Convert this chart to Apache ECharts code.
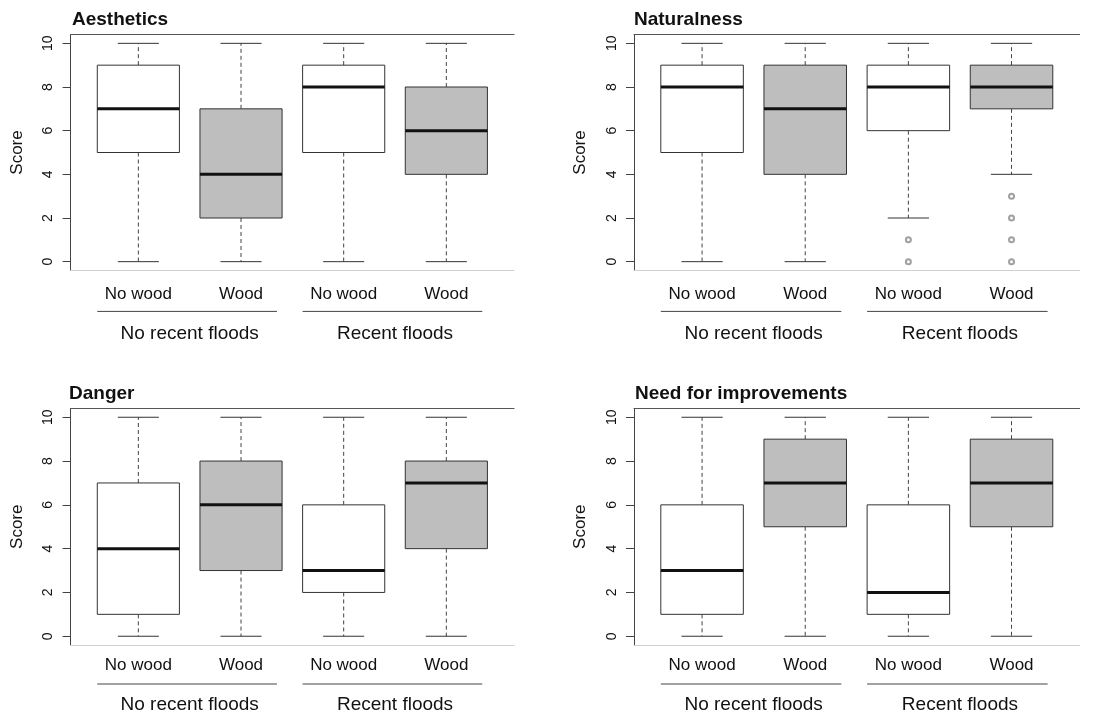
<!DOCTYPE html>
<html>
<head>
<meta charset="utf-8">
<script src="https://cdn.jsdelivr.net/npm/echarts@6/dist/echarts.min.js"></script>
<style>
html,body{margin:0;padding:0;background:#fff;}
#chart{width:1104px;height:714px;}
</style>
</head>
<body>
<div id="chart"></div>
<script>
// ---- data ----
const categories = ['No wood', 'Wood', 'No wood', 'Wood'];
const groups = ['No recent floods', 'Recent floods'];
const panelTitles = ['Aesthetics', 'Naturalness', 'Danger', 'Need for improvements'];
const woodFlags = [false, true, false, true];
const yTicks = [0, 2, 4, 6, 8, 10];
// [min, Q1, median, Q3, max] per category
const aestheticsStats = [[0, 5, 7, 9, 10], [0, 2, 4, 7, 10], [0, 5, 8, 9, 10], [0, 4, 6, 8, 10]];
const naturalnessStats = [[0, 5, 8, 9, 10], [0, 4, 7, 9, 10], [2, 6, 8, 9, 10], [4, 7, 8, 9, 10]];
const dangerStats = [[0, 1, 4, 7, 10], [0, 3, 6, 8, 10], [0, 2, 3, 6, 10], [0, 4, 7, 8, 10]];
const improvementStats = [[0, 1, 3, 6, 10], [0, 5, 7, 9, 10], [0, 1, 2, 6, 10], [0, 5, 7, 9, 10]];
// outliers: [category index, value]
const aestheticsOutliers = [];
const naturalnessOutliers = [[2, 1], [2, 0], [3, 3], [3, 2], [3, 1], [3, 0]];
const dangerOutliers = [];
const improvementOutliers = [];
// group underline spans (category units)
const groupSpans = [[-0.4, 1.35], [1.6, 3.35]];

const allStats = [aestheticsStats, naturalnessStats, dangerStats, improvementStats];
const allOutliers = [aestheticsOutliers, naturalnessOutliers, dangerOutliers, improvementOutliers];

// ---- layout ----
const FONT = 'Liberation Sans, Arial, Helvetica, sans-serif';
const grids = [
  {left: 70.6, top: 34.6, width: 443.5, height: 235.8},
  {left: 634, top: 34.6, width: 445.6, height: 235.8},
  {left: 70.6, top: 408.5, width: 443.5, height: 237},
  {left: 634, top: 408.5, width: 445.6, height: 237}
];
const titlePos = [
  {left: 67, top: 5}, {left: 629, top: 5}, {left: 64, top: 379}, {left: 630, top: 379}
];
const catMargin = [15, 15, 12, 12];
const groupLineOff = [41, 41, 39, 39];
const groupMargin = [14, 14, 10, 10];

const option = {
  backgroundColor: '#fff',
  animation: false,
  title: [], grid: [], xAxis: [], yAxis: [], series: []
};

function boxRender(params, api) {
  const idx = api.value(0);
  const mn = api.value(1), q1 = api.value(2), md = api.value(3), q3 = api.value(4), mx = api.value(5);
  const bw = api.size([0.8, 0])[0];
  const cw = bw * 0.5;
  const pMin = api.coord([idx, mn]), pQ1 = api.coord([idx, q1]), pMd = api.coord([idx, md]);
  const pQ3 = api.coord([idx, q3]), pMx = api.coord([idx, mx]);
  const cx = pMd[0];
  const fill = woodFlags[idx] ? '#bebebe' : '#ffffff';
  const dash = {stroke: '#444', lineWidth: 1, lineDash: [4, 3]};
  const solid = {stroke: '#333', lineWidth: 1};
  return {
    type: 'group',
    children: [
      {type: 'line', shape: {x1: cx, y1: pQ3[1], x2: cx, y2: pMx[1]}, style: dash},
      {type: 'line', shape: {x1: cx, y1: pQ1[1], x2: cx, y2: pMin[1]}, style: dash},
      {type: 'line', shape: {x1: cx - cw / 2, y1: pMx[1], x2: cx + cw / 2, y2: pMx[1]}, style: solid},
      {type: 'line', shape: {x1: cx - cw / 2, y1: pMin[1], x2: cx + cw / 2, y2: pMin[1]}, style: solid},
      {type: 'rect', shape: {x: cx - bw / 2, y: pQ3[1], width: bw, height: pQ1[1] - pQ3[1]},
        style: {fill: fill, stroke: '#333', lineWidth: 1}},
      {type: 'line', shape: {x1: cx - bw / 2, y1: pMd[1], x2: cx + bw / 2, y2: pMd[1]},
        style: {stroke: '#111', lineWidth: 3}}
    ]
  };
}

function makeGroupLineRender(off) {
  return function (params, api) {
    const cs = params.coordSys;
    const a = api.coord([api.value(0), 0]);
    const b = api.coord([api.value(1), 0]);
    const y = cs.y + cs.height + off;
    return {type: 'line', shape: {x1: a[0], y1: y, x2: b[0], y2: y}, style: {stroke: '#444', lineWidth: 1}};
  };
}

for (let i = 0; i < 4; i++) {
  option.title.push({
    text: panelTitles[i], left: titlePos[i].left, top: titlePos[i].top,
    textStyle: {fontFamily: FONT, fontSize: 19, fontWeight: 'bold', color: '#111'}
  });
  option.grid.push(Object.assign({containLabel: false}, grids[i]));
  // main bottom axis with category labels
  option.xAxis.push({
    type: 'value', gridIndex: i, min: -0.66, max: 3.66, position: 'bottom',
    axisLine: {show: true, onZero: false, lineStyle: {color: '#d0d0d0'}},
    axisTick: {show: false}, splitLine: {show: false},
    axisLabel: {customValues: [0, 1, 2, 3], formatter: v => categories[Math.round(v)],
      fontFamily: FONT, fontSize: 17, color: '#111', margin: catMargin[i]}
  });
  // top frame line
  option.xAxis.push({
    type: 'value', gridIndex: i, min: -0.66, max: 3.66, position: 'top',
    axisLine: {show: true, onZero: false, lineStyle: {color: '#555'}},
    axisTick: {show: false}, splitLine: {show: false}, axisLabel: {show: false}
  });
  // group labels
  option.xAxis.push({
    type: 'value', gridIndex: i, min: -0.66, max: 3.66, position: 'bottom', offset: 40,
    axisLine: {show: false}, axisTick: {show: false}, splitLine: {show: false},
    axisLabel: {customValues: [0.5, 2.5], formatter: v => groups[Math.round((v - 0.5) / 2)],
      fontFamily: FONT, fontSize: 19, color: '#111', margin: groupMargin[i]}
  });
  option.yAxis.push({
    type: 'value', gridIndex: i, min: -0.4, max: 10.4,
    axisLine: {show: true, onZero: false, lineStyle: {color: '#444'}},
    axisTick: {show: true, customValues: yTicks, length: 8, lineStyle: {color: '#444'}},
    splitLine: {show: false},
    axisLabel: {customValues: yTicks, rotate: 90, fontFamily: FONT, fontSize: 14, color: '#111', margin: 15},
    name: 'Score', nameLocation: 'middle', nameGap: 45, nameRotate: 90,
    nameTextStyle: {fontFamily: FONT, fontSize: 17, color: '#111'}
  });
  option.series.push({
    type: 'custom', xAxisIndex: 3 * i, yAxisIndex: i, clip: false,
    renderItem: boxRender,
    encode: {x: 0, y: [1, 2, 3, 4, 5]},
    data: allStats[i].map((s, k) => [k].concat(s))
  });
  option.series.push({
    type: 'scatter', xAxisIndex: 3 * i, yAxisIndex: i,
    symbol: 'emptyCircle', symbolSize: 5, z: 5,
    itemStyle: {color: '#888', borderWidth: 1},
    data: allOutliers[i]
  });
  option.series.push({
    type: 'custom', xAxisIndex: 3 * i, yAxisIndex: i, clip: false,
    renderItem: makeGroupLineRender(groupLineOff[i]),
    encode: {x: [0, 1]},
    data: groupSpans
  });
}

const chart = echarts.init(document.getElementById('chart'));
chart.setOption(option);
</script>
</body>
</html>
